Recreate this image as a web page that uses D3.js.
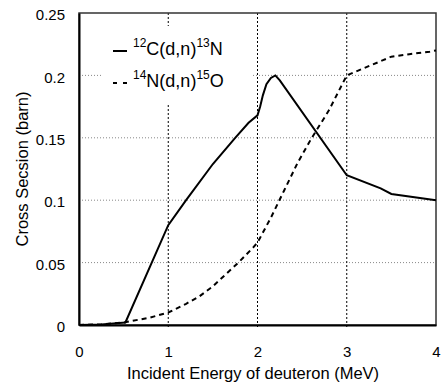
<!DOCTYPE html>
<html>
<head>
<meta charset="utf-8">
<script src="https://cdn.jsdelivr.net/npm/d3@7"></script>
<style>
  html, body { margin: 0; padding: 0; background: #fff; }
  svg { display: block; font-family: "Liberation Sans", Arial, sans-serif; }
</style>
</head>
<body>
<svg id="chart"></svg>
<script>
// energies (MeV) and cross sections (barn)
const cEnergy = [0, 0.25, 0.52, 1.0, 1.2, 1.5, 1.75, 1.9, 2.0, 2.03, 2.06, 2.1, 2.15, 2.2, 2.25, 3.0, 3.38, 3.5, 4.0];
const cSigma  = [0, 0.0005, 0.002, 0.08, 0.1, 0.129, 0.15, 0.162, 0.168, 0.175, 0.184, 0.193, 0.198, 0.2, 0.196, 0.12, 0.1095, 0.105, 0.1];

const nEnergy = [0, 0.25, 0.5, 0.8, 1.0, 1.2, 1.35, 1.5, 1.65, 1.8, 1.95, 2.0, 2.15, 2.3, 2.45, 2.6, 2.8, 3.0, 3.2, 3.4, 3.5, 3.7, 3.93, 4.0];
const nSigma  = [0, 0.0005, 0.002, 0.006, 0.01, 0.017, 0.023, 0.031, 0.041, 0.051, 0.062, 0.066, 0.086, 0.108, 0.13, 0.149, 0.172, 0.2, 0.206, 0.212, 0.215, 0.217, 0.219, 0.22];

const xTicks = [0, 1, 2, 3, 4];
const yTicks = [0, 0.05, 0.1, 0.15, 0.2, 0.25];
const yTickLabels = ["0", "0.05", "0.1", "0.15", "0.2", "0.25"];
const xGrid = [1, 2, 3];
const yGrid = [0.05, 0.1, 0.15, 0.2];

const width = 442, height = 385;
const marginTop = 13, marginRight = 6, marginBottom = 60, marginLeft = 79;

const x = d3.scaleLinear([0, 4], [marginLeft, width - marginRight]);
const y = d3.scaleLinear([0, 0.25], [height - marginBottom, marginTop]);

const svg = d3.select("#chart")
    .attr("width", width)
    .attr("height", height)
    .attr("viewBox", [0, 0, width, height]);

// horizontal grid, grey dots
svg.append("g")
  .selectAll("line")
  .data(yGrid)
  .join("line")
    .attr("x1", x(0)).attr("x2", x(4))
    .attr("y1", d => y(d)).attr("y2", d => y(d))
    .attr("stroke", "#888")
    .attr("stroke-width", 1)
    .attr("stroke-dasharray", "1,2");

// vertical grid, black dots (runs a little below the axis like a tick)
svg.append("g")
  .selectAll("line")
  .data(xGrid)
  .join("line")
    .attr("x1", d => x(d)).attr("x2", d => x(d))
    .attr("y1", y(0.25)).attr("y2", y(0) + 4)
    .attr("stroke", "#000")
    .attr("stroke-width", 1)
    .attr("stroke-dasharray", "2,2");

// legend backing hides the grid under it
svg.append("rect")
    .attr("x", 103).attr("y", 26)
    .attr("width", 149).attr("height", 77)
    .attr("fill", "#fff");

// frame
svg.append("rect")
    .attr("x", x(0)).attr("y", y(0.25))
    .attr("width", x(4) - x(0)).attr("height", y(0) - y(0.25))
    .attr("fill", "none")
    .attr("stroke", "#333")
    .attr("stroke-width", 1.5);

// axes
svg.append("g")
    .attr("transform", `translate(0,${y(0)})`)
    .call(d3.axisBottom(x).tickValues(xTicks).tickFormat(d3.format("d")).tickSize(0).tickPadding(21))
    .call(g => g.select(".domain").attr("stroke", "#000").attr("stroke-width", 2))
    .call(g => g.selectAll("text").attr("font-size", 15).attr("fill", "#000").attr("font-family", null));

svg.append("g")
    .attr("transform", `translate(${x(0)},0)`)
    .call(d3.axisLeft(y).tickValues(yTicks).tickFormat((d, i) => yTickLabels[i]).tickSize(0).tickPadding(14))
    .call(g => g.select(".domain").attr("stroke", "#000").attr("stroke-width", 2))
    .call(g => g.selectAll("text").attr("font-size", 15).attr("fill", "#000").attr("font-family", null).attr("dy", "0.45em"));

// axis titles
svg.append("text")
    .attr("x", 253).attr("y", 379)
    .attr("text-anchor", "middle")
    .attr("font-size", 16.5)
    .text("Incident Energy of deuteron (MeV)");

svg.append("text")
    .attr("transform", "translate(28,169) rotate(-90)")
    .attr("text-anchor", "middle")
    .attr("font-size", 16.5)
    .text("Cross Secsion (barn)");

// curves
const line = d3.line()
    .x(d => x(d[0]))
    .y(d => y(d[1]));

svg.append("path")
    .datum(nEnergy.map((e, i) => [e, nSigma[i]]))
    .attr("fill", "none")
    .attr("stroke", "#000")
    .attr("stroke-width", 2)
    .attr("stroke-dasharray", "5,4")
    .attr("d", line);

svg.append("path")
    .datum(cEnergy.map((e, i) => [e, cSigma[i]]))
    .attr("fill", "none")
    .attr("stroke", "#000")
    .attr("stroke-width", 2)
    .attr("d", line);

// legend
const legend = [
  {a: "12", el: "C(d,n)", b: "13", el2: "N", dash: null, y: 55},
  {a: "14", el: "N(d,n)", b: "15", el2: "O", dash: "4,6", y: 87}
];

const lg = svg.append("g")
  .selectAll("g")
  .data(legend)
  .join("g");

lg.append("line")
    .attr("x1", 113).attr("x2", 127)
    .attr("y1", d => d.y - 4).attr("y2", d => d.y - 4)
    .attr("stroke", "#000")
    .attr("stroke-width", 2)
    .attr("stroke-dasharray", d => d.dash);

const lt = lg.append("text")
    .attr("x", 133).attr("y", d => d.y)
    .attr("font-size", 18);
lt.append("tspan").attr("font-size", 12).attr("dy", -8).text(d => d.a);
lt.append("tspan").attr("dy", 8).text(d => d.el);
lt.append("tspan").attr("font-size", 12).attr("dy", -8).text(d => d.b);
lt.append("tspan").attr("dy", 8).text(d => d.el2);
</script>
</body>
</html>
